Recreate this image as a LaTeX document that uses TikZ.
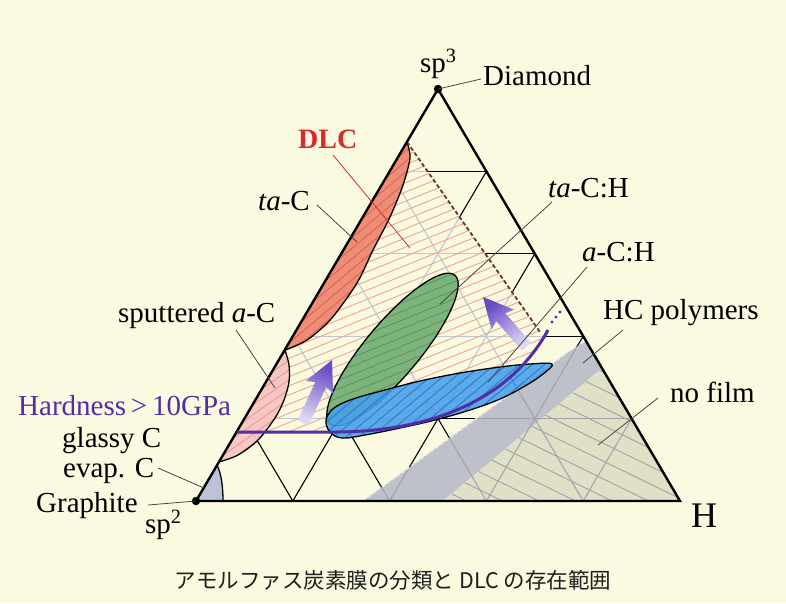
\documentclass[tikz,border=0pt]{standalone}
\usepackage{fontspec}
\setmainfont{Liberation Serif}
\newfontfamily\cjkfont{Noto Sans CJK JP}
\usetikzlibrary{calc}
\definecolor{bg}{RGB}{250,250,224}
\definecolor{gridlight}{RGB}{188,200,212}
\definecolor{dlchatch}{RGB}{240,165,145}
\definecolor{tacfill}{RGB}{238,140,118}
\definecolor{tachatch}{RGB}{214,98,82}
\definecolor{pinkfill}{RGB}{245,196,194}
\definecolor{pinkhatch}{RGB}{234,150,140}
\definecolor{greenfill}{RGB}{124,180,124}
\definecolor{greenhatch}{RGB}{92,148,96}
\definecolor{bluefill}{RGB}{70,160,236}
\definecolor{bluehatch}{RGB}{40,118,200}
\definecolor{glassyfill}{RGB}{186,196,216}
\definecolor{bandfill}{RGB}{190,192,202}
\definecolor{nofilmfill}{RGB}{224,224,198}
\definecolor{graygrid}{RGB}{160,160,170}
\definecolor{hardpurple}{RGB}{84,44,166}
\definecolor{arrtop}{RGB}{104,74,196}
\definecolor{arrbot}{RGB}{222,216,246}
\definecolor{dlcred}{RGB}{222,40,40}
\definecolor{dashbrown}{RGB}{100,55,40}
\definecolor{leadgray}{RGB}{70,70,70}

\newcommand\gridlines[1]{%
  \foreach \k in {1,2,3,4}{%
    \draw[#1] ($(P)!\k/5!(A)$) -- ($(Q)!\k/5!(A)$);
    \draw[#1] ($(P)!\k/5!(Q)$) -- ($(P)!\k/5!(A)$);
    \draw[#1] ($(Q)!\k/5!(P)$) -- ($(Q)!\k/5!(A)$);
  }}
\newcommand\hatch[6]{%
  \begin{scope}
    \clip #1;
    \begin{scope}[shift={(#2,#3)},rotate=#4]
      \foreach \i in {-30,...,30}{\draw[#5] (-270,\i*#6) -- (270,\i*#6);}
    \end{scope}
  \end{scope}}
\newcommand\blockarrow[4]{%
  \begin{scope}[shift={(#1,#2)},rotate=#3]
    \shade[top color=arrtop, bottom color=arrbot, shading angle=#3]
      (0,0) -- (15,30) -- (6,27) -- (6,#4) -- (-6,#4) -- (-6,27) -- (-15,30) -- cycle;
  \end{scope}}

\def\DLCpath{(237,432) -- (335,432) .. controls (430,432) and (510,400) .. (548,330) -- (540,332) -- (407,142) -- cycle}
\def\tacpath{plot[smooth] coordinates {(407,142) (410,158) (403,185) (390,217) (373,250) (357,283) (331,319) (307,340) (285,350)} -- cycle}
\def\pinkpath{plot[smooth] coordinates {(285,350) (289,365) (289,382) (284,400) (275,418) (258,440) (238,455) (219,462)} -- cycle}
\def\glassypath{(196,501) -- (217,465) .. controls (222,475) and (223,490) .. (223,501) -- cycle}
\def\greenpath{[rotate around={50:(392.5,349.5)}] (392.5,349.5) ellipse (97 and 27)}
\def\bluepath{plot[smooth cycle, tension=0.6] coordinates {(552,364) (530,364) (500,367) (460,373) (420,381) (385,390) (353,399) (334,408) (326,420) (330,432) (342,438) (365,435) (400,428) (435,420) (470,410) (500,399) (525,386) (543,374)}}
\def\bandpath{(363,501) -- (567,353) -- (586,341) -- (602,368) -- (443,501) -- cycle}
\def\nofilmpath{(443,501) -- (602,368) -- (680,501) -- cycle}

\tikzset{
  lbl/.style={inner sep=0pt, anchor=base west, font=\fontsize{29}{32}\selectfont},
  leader/.style={draw=leadgray, line width=0.8},
  outline/.style={draw=black, line width=1.3},
}

\begin{document}
\begin{tikzpicture}[x=1pt,y=-1pt]
\useasboundingbox (0,0) rectangle (786,603);
\fill[bg] (0,0) rectangle (786,603);

\coordinate (A) at (438,89);
\coordinate (P) at (196,501);
\coordinate (Q) at (680,501);

% black grid
\gridlines{black, line width=1.1}

% DLC hatched region
\fill[bg] \DLCpath;
\begin{scope}
  \clip \DLCpath;
  \gridlines{gridlight, line width=1.1}
\end{scope}
\hatch{\DLCpath}{390}{290}{22}{dlchatch, line width=0.9}{8.5}

% HC polymers band and no film
\fill[bandfill] \bandpath;
\fill[nofilmfill] \nofilmpath;
\begin{scope}
  \clip \bandpath;
  \gridlines{graygrid, line width=1}
\end{scope}
\begin{scope}
  \clip \nofilmpath;
  \gridlines{graygrid, line width=1}
\end{scope}
\hatch{\nofilmpath}{560}{440}{-26}{graygrid, line width=0.9}{16}
\draw[white!60!bandfill, dashed, line width=1.6] (363,501) -- (567,353);

% sputtered a-C (pink)
\fill[pinkfill, opacity=0.92] \pinkpath;
\hatch{\pinkpath}{260}{400}{35}{pinkhatch, line width=0.8}{8}
\draw[outline] plot[smooth] coordinates {(285,350) (289,365) (289,382) (284,400) (275,418) (258,440) (238,455) (219,462)};

% ta-C
\fill[tacfill] \tacpath;
\hatch{\tacpath}{350}{250}{40}{tachatch, line width=0.8}{8}
\draw[outline] plot[smooth] coordinates {(407,142) (410,158) (403,185) (390,217) (373,250) (357,283) (331,319) (307,340) (285,350)};

% glassy C
\fill[glassyfill] \glassypath;
\draw[outline] (217,465) .. controls (222,475) and (223,490) .. (223,501);

% green ta-C:H
\fill[greenfill] \greenpath;
\hatch{\greenpath}{392}{350}{22}{greenhatch, line width=0.8}{8}
\draw[outline] \greenpath;

% blue a-C:H
\fill[bluefill, opacity=0.88] \bluepath;
\hatch{\bluepath}{440}{400}{40}{bluehatch, line width=0.8}{8}
\draw[outline] \bluepath;

% DLC dashed boundary
\draw[dashbrown, line width=1.8, dash pattern=on 4pt off 2.5pt] (407,142) -- (540,332);

% triangle
\draw[black, line width=2.4, line join=miter] (A) -- (P) -- (Q) -- cycle;

% hardness line
\draw[hardpurple, line width=3] (237,432) -- (335,432) .. controls (430,432) and (510,400) .. (548,330);
\fill[hardpurple] (552,322) circle (1.7) (556,317) circle (1.7) (560,312) circle (1.7);

% arrows
\blockarrow{332}{360}{-24.7}{69}
\blockarrow{483}{297}{41.3}{66}

% vertex dots
\fill (A) circle (4.2);
\fill (P) circle (4.2);

% labels
\node[lbl] (sp3) at (420,72) {sp\textsuperscript{3}};
\node[lbl] (diam) at (483,85) {Diamond};
\node[lbl, text=dlcred, font=\fontsize{28}{32}\selectfont\bfseries] (dlc) at (298,148) {DLC};
\node[lbl] (tac) at (258,210) {\textit{ta}-C};
\node[lbl] (sput) at (118,322) {sputtered \textit{a}-C};
\node[lbl, text=hardpurple] (hard) at (18,415) {Hardness\,>\,10GPa};
\node[lbl] (glassy) at (62,447) {glassy C};
\node[lbl] (evap) at (63,477) {evap. C};
\node[lbl] (graph) at (36,512) {Graphite};
\node[lbl] (sp2) at (145,533) {sp\textsuperscript{2}};
\node[lbl, font=\fontsize{36}{40}\selectfont] (hlab) at (691,527) {H};
\node[lbl] (tach) at (548,197) {\textit{ta}-C:H};
\node[lbl] (ach) at (582,261) {\textit{a}-C:H};
\node[lbl] (hcp) at (603,319) {HC polymers};
\node[lbl] (nof) at (670,402) {no film};
\node[anchor=base, inner sep=0pt, text={rgb,255:red,30;green,30;blue,30}, font=\cjkfont\fontsize{21.5}{24}\selectfont] (cap) at (393,588) {アモルファス炭素膜の分類と DLC の存在範囲};

% leader coordinates
\coordinate (diamS) at (481,79);
\coordinate (dlcS) at (333,155);   \coordinate (dlcE) at (410,248);
\coordinate (tacS) at (317,205);   \coordinate (tacE) at (357,242);
\coordinate (sputS) at (236,330);  \coordinate (sputE) at (275,388);
\coordinate (evapS) at (158,468);  \coordinate (evapE) at (204,488);
\coordinate (graphS) at (148,505);
\coordinate (tachS) at (552,202);  \coordinate (tachE) at (440,304);
\coordinate (achS) at (587,267);   \coordinate (achE) at (488,382);
\coordinate (hcpS) at (623,330);   \coordinate (hcpE) at (583,363);
\coordinate (nofS) at (658,398);   \coordinate (nofE) at (598,445);

\draw[leader] (diamS) -- (A);
\draw[draw=dlcred, line width=0.8] (dlcS) -- (dlcE);
\draw[leader] (tacS) -- (tacE);
\draw[leader] (sputS) -- (sputE);
\draw[leader] (evapS) -- (evapE);
\draw[leader] (graphS) -- (P);
\draw[leader] (tachS) -- (tachE);
\draw[leader] (achS) -- (achE);
\draw[leader] (hcpS) -- (hcpE);
\draw[leader] (nofS) -- (nofE);
\end{tikzpicture}
\end{document}
